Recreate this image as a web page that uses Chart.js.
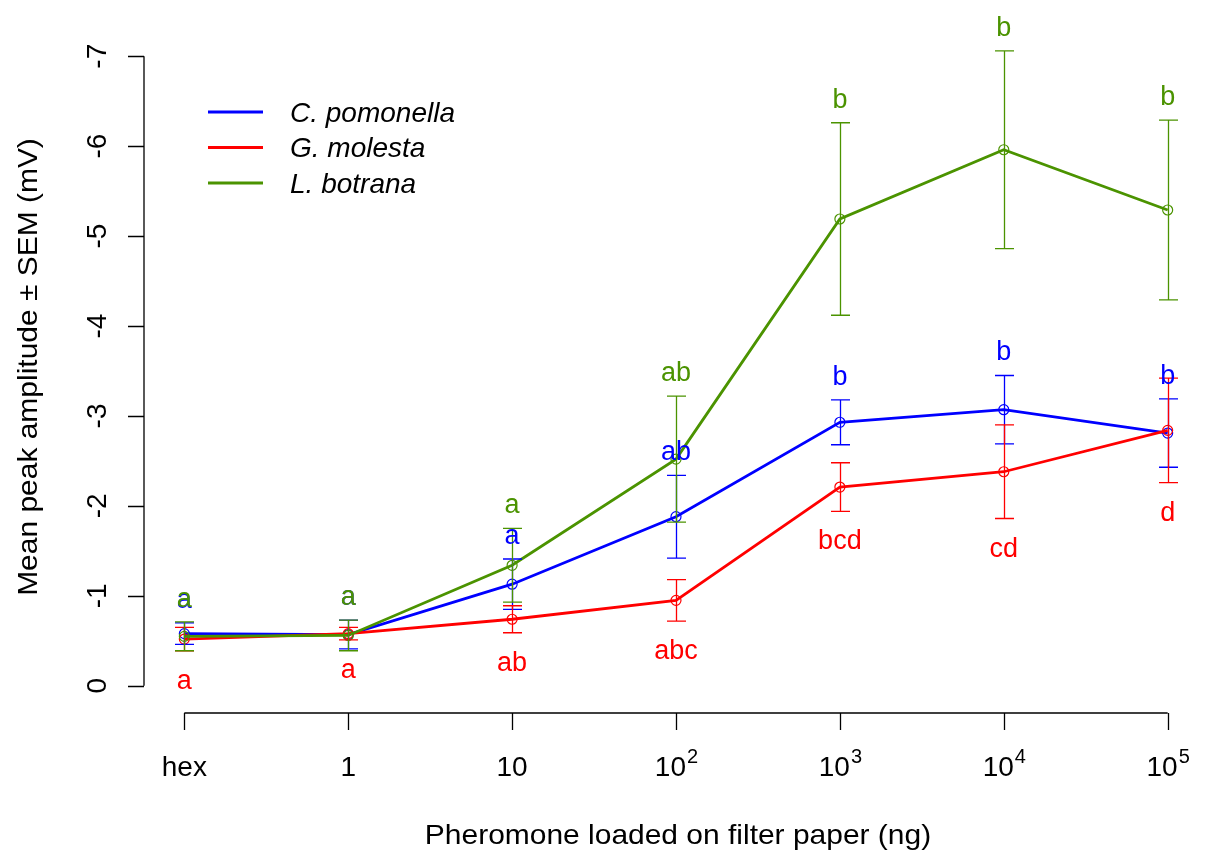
<!DOCTYPE html>
<html>
<head>
<meta charset="utf-8">
<script src="https://cdn.jsdelivr.net/npm/chart.js@4.4.1/dist/chart.umd.min.js"></script>
<style>
  html, body { margin: 0; padding: 0; background: #fff; }
</style>
</head>
<body>
<canvas id="epg" width="1205" height="855"></canvas>
<script>
// doses on the x axis (hexane control, then 1 ng ... 10^5 ng)
const doses = [1, 2, 3, 4, 5, 6, 7];
const doseLabels = ['hex', '1', '10', '10^2', '10^3', '10^4', '10^5'];
const yTicks = [0, -1, -2, -3, -4, -5, -6, -7];

const pomonellaMean = [-0.58, -0.57, -1.13, -1.88, -2.93, -3.07, -2.81];
const pomonellaSem = [0.12, 0.16, 0.28, 0.46, 0.25, 0.38, 0.38];
const pomonellaLetters = ['a', 'a', 'a', 'ab', 'b', 'b', 'b'];

const molestaMean = [-0.52, -0.58, -0.74, -0.95, -2.21, -2.38, -2.84];
const molestaSem = [0.13, 0.07, 0.15, 0.23, 0.27, 0.52, 0.58];
const molestaLetters = ['a', 'a', 'ab', 'abc', 'bcd', 'cd', 'd'];

const botranaMean = [-0.55, -0.56, -1.34, -2.52, -5.19, -5.96, -5.29];
const botranaSem = [0.16, 0.17, 0.41, 0.70, 1.07, 1.10, 1.00];
const botranaLetters = ['a', 'a', 'a', 'ab', 'b', 'b', 'b'];

const FONT = '"Liberation Sans", Arial, sans-serif';

const series = [
  { label: 'C. pomonella', mean: pomonellaMean, sem: pomonellaSem, letters: pomonellaLetters, color: '#0000ff', below: false },
  { label: 'G. molesta', mean: molestaMean, sem: molestaSem, letters: molestaLetters, color: '#ff0000', below: true },
  { label: 'L. botrana', mean: botranaMean, sem: botranaSem, letters: botranaLetters, color: '#4b9300', below: false }
];

function toPoints(vals) {
  return doses.map((d, i) => ({ x: d, y: vals[i] }));
}

// text drawn a bit wider, like the R windows device output
function wideText(ctx, txt, x, y, rot) {
  ctx.save();
  ctx.translate(x, y);
  if (rot) ctx.rotate(rot);
  ctx.scale(1.07, 1);
  ctx.fillText(txt, 0, 0);
  ctx.restore();
}

// R-like decorations: error bars, letters, axes, legend
const rStyle = {
  id: 'rStyle',
  afterDatasetsDraw(chart) {
    const { ctx, scales: { x, y } } = chart;
    ctx.save();
    ctx.lineWidth = 1.3;
    series.forEach(s => {
      ctx.strokeStyle = s.color;
      s.mean.forEach((m, i) => {
        const px = Math.round(x.getPixelForValue(doses[i])) + 0.5;
        const top = y.getPixelForValue(m - s.sem[i]);
        const bot = y.getPixelForValue(m + s.sem[i]);
        ctx.beginPath();
        ctx.moveTo(px, top); ctx.lineTo(px, bot);
        ctx.moveTo(px - 9.5, top); ctx.lineTo(px + 9.5, top);
        ctx.moveTo(px - 9.5, bot); ctx.lineTo(px + 9.5, bot);
        ctx.stroke();
      });
    });
    ctx.font = '27px ' + FONT;
    ctx.textAlign = 'center';
    ctx.textBaseline = 'alphabetic';
    series.forEach(s => {
      ctx.fillStyle = s.color;
      s.letters.forEach((t, i) => {
        const px = x.getPixelForValue(doses[i]);
        const py = s.below
          ? y.getPixelForValue(s.mean[i] + s.sem[i]) + 38
          : y.getPixelForValue(s.mean[i] - s.sem[i]) - 15;
        ctx.fillText(t, px, py);
      });
    });
    ctx.restore();
  },
  afterDraw(chart) {
    const { ctx, chartArea, scales: { x, y } } = chart;
    ctx.save();
    ctx.strokeStyle = '#000';
    ctx.fillStyle = '#000';
    ctx.lineWidth = 1.3;

    // x axis
    const ax = chartArea.bottom + 2;
    ctx.beginPath();
    ctx.moveTo(x.getPixelForValue(doses[0]), ax);
    ctx.lineTo(x.getPixelForValue(doses[doses.length - 1]), ax);
    doses.forEach(d => {
      const px = Math.round(x.getPixelForValue(d)) + 0.5;
      ctx.moveTo(px, ax); ctx.lineTo(px, ax + 17);
    });
    ctx.stroke();

    ctx.textBaseline = 'alphabetic';
    doses.forEach((d, i) => {
      const px = x.getPixelForValue(d);
      const parts = doseLabels[i].split('^');
      ctx.font = '28px ' + FONT;
      const wBase = ctx.measureText(parts[0]).width;
      let wExp = 0;
      if (parts[1]) {
        ctx.font = '20px ' + FONT;
        wExp = ctx.measureText(parts[1]).width;
      }
      const start = px - (wBase + wExp) / 2;
      ctx.textAlign = 'left';
      ctx.font = '28px ' + FONT;
      ctx.fillText(parts[0], start, ax + 63);
      if (parts[1]) {
        ctx.font = '20px ' + FONT;
        ctx.fillText(parts[1], start + wBase + 1, ax + 50);
      }
    });
    ctx.textAlign = 'center';
    ctx.font = '28px ' + FONT;
    wideText(ctx, 'Pheromone loaded on filter paper (ng)', (x.getPixelForValue(0.76) + x.getPixelForValue(7.24)) / 2 + 2, 844);

    // y axis
    const ay = chartArea.left - 1;
    ctx.beginPath();
    ctx.moveTo(ay, y.getPixelForValue(yTicks[0]));
    ctx.lineTo(ay, y.getPixelForValue(yTicks[yTicks.length - 1]));
    yTicks.forEach(t => {
      const py = Math.round(y.getPixelForValue(t)) + 0.5;
      ctx.moveTo(ay, py); ctx.lineTo(ay - 16, py);
    });
    ctx.stroke();
    yTicks.forEach(t => {
      ctx.save();
      ctx.translate(106, y.getPixelForValue(t));
      ctx.rotate(-Math.PI / 2);
      ctx.fillText(String(t), 0, 0);
      ctx.restore();
    });
    wideText(ctx, 'Mean peak amplitude \u00b1 SEM (mV)', 37, (chartArea.top + chartArea.bottom) / 2 - 4, -Math.PI / 2);

    // legend
    ctx.lineWidth = 3;
    ctx.textAlign = 'left';
    ctx.textBaseline = 'middle';
    ctx.font = 'italic 28px ' + FONT;
    series.forEach((s, i) => {
      const ly = 112 + i * 35.5;
      ctx.strokeStyle = s.color;
      ctx.beginPath();
      ctx.moveTo(208, ly); ctx.lineTo(263, ly);
      ctx.stroke();
      ctx.fillStyle = '#000';
      ctx.fillText(s.label, 290, ly + 2);
    });
    ctx.restore();
  }
};

new Chart(document.getElementById('epg').getContext('2d'), {
  type: 'line',
  data: {
    datasets: series.map((s, i) => ({
      label: s.label,
      data: toPoints(s.mean),
      borderColor: s.color,
      borderWidth: 2.8,
      tension: 0,
      pointRadius: 5,
      pointBorderWidth: 1.2,
      pointBorderColor: s.color,
      pointBackgroundColor: 'rgba(0,0,0,0)',
      order: series.length - i
    }))
  },
  options: {
    responsive: false,
    animation: false,
    layout: { padding: { left: 145, right: 0, top: 31, bottom: 144 } },
    plugins: { legend: { display: false }, tooltip: { enabled: false } },
    scales: {
      x: { type: 'linear', min: 0.76, max: 7.19, display: false },
      y: { type: 'linear', min: -7.28, max: 0.28, reverse: true, display: false }
    }
  },
  plugins: [rStyle]
});
</script>
</body>
</html>
